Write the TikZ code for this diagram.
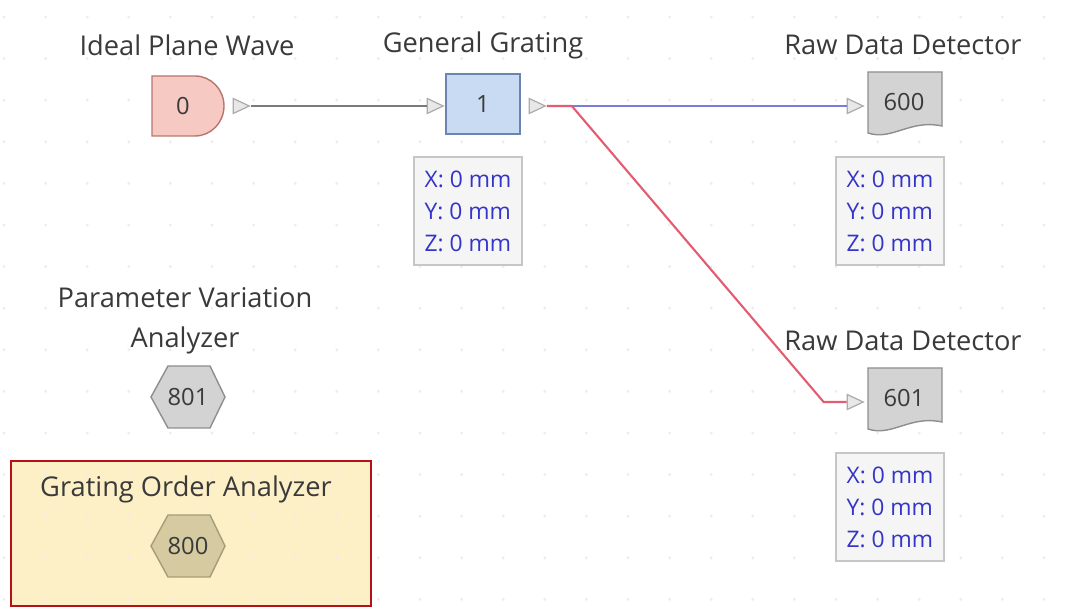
\documentclass[tikz,border=0pt]{standalone}
\usepackage{fontspec}
\setmainfont{Open Sans}
\usepackage{tikz}
\usetikzlibrary{positioning,shapes.geometric}

\definecolor{txtgray}{HTML}{3A3A3A}
\definecolor{srcfill}{HTML}{F6C9C2}
\definecolor{srcline}{HTML}{B8776C}
\definecolor{grtfill}{HTML}{C9DBF2}
\definecolor{grtline}{HTML}{6A86B0}
\definecolor{detfill}{HTML}{D3D3D3}
\definecolor{detline}{HTML}{8E8E8E}
\definecolor{infoblue}{HTML}{3434C8}
\definecolor{hexkhaki}{HTML}{D6CBA0}
\definecolor{hexkline}{HTML}{A69D78}
\definecolor{paleyellow}{HTML}{FDF0C6}
\definecolor{selred}{HTML}{B3121C}
\definecolor{wireblue}{HTML}{7C7CD8}
\definecolor{wirered}{HTML}{E35C70}
\definecolor{wiregray}{HTML}{7A7A7A}

\tikzset{
  title/.style={text=txtgray,font=\fontsize{15.5}{22.8}\selectfont,align=center,inner sep=0pt},
  numlbl/.style={text=txtgray,font=\fontsize{13.5}{16}\selectfont,inner sep=0pt},
  port/.style={isosceles triangle,isosceles triangle stretches,draw=gray!65,fill=gray!18,
    minimum width=0.3cm,minimum height=0.32cm,inner sep=0pt,line width=0.7pt},
  infobox/.style={draw=gray!45,fill=gray!8,line width=0.8pt,text=infoblue,align=left,
    font=\fontsize{13}{18.2}\selectfont,minimum width=2.16cm,minimum height=2.16cm,inner sep=0pt},
  wire/.style={line width=1.2pt}
}

\begin{document}
\begin{tikzpicture}[x=0.02cm,y=-0.02cm]
\useasboundingbox (0,0) rectangle (1066,607);
\fill[white] (0,0) rectangle (1066,607);
% analyzer selection
\draw[fill=paleyellow,draw=selred,line width=1.6pt] (11,461) rectangle (371,606);
% grid dots
\foreach \gx in {4,45.6,...,1066}
  \foreach \gy in {17,58.6,...,607}
    \fill[gray!14] (\gx,\gy) circle (0.9pt);

% source
\draw[fill=srcfill,draw=srcline,line width=0.8pt] (152,76) -- (195,76)
  arc[start angle=90,end angle=-90,x radius=0.58cm,y radius=0.6cm] -- (152,136) -- cycle;
\node[numlbl] (src0) at (183,106) {0};
\node[title] at (187,45) {Ideal Plane Wave};
\node[port] (out0) at (238,106) {};

% grating
\node[draw=grtline,fill=grtfill,line width=0.8pt,minimum width=1.48cm,minimum height=1.2cm,
  text=txtgray,font=\fontsize{13.5}{16}\selectfont] (grt1) at (483,104) {1};
\node[title] at (483,45) {General Grating};
\node[port] (in1) at (432,106) {};
\node[port] (out1) at (534,106) {};
\node[infobox] (info1) at (468,211) {X: 0 mm\\Y: 0 mm\\Z: 0 mm};

% detectors
\foreach \nm/\py in {600/105, 601/401} {
  \draw[fill=detfill,draw=detline,line width=0.8pt] (868,\py-33) -- (942,\py-33) -- (942,\py+21)
    .. controls (910,\py+14) and (892,\py+36) .. (868,\py+28) -- cycle;
  \node[numlbl] (det\nm) at (904,\py-3) {\nm};
  \node[title] at (903,\py-60) {Raw Data Detector};
  \node[port] (in\nm) at (852,\py+1) {};
  \node[infobox] (info\nm) at (890,\py+106) {X: 0 mm\\Y: 0 mm\\Z: 0 mm};
}

% analyzers
\foreach \nm/\py/\fc/\lc in {801/397/detfill/detline, 800/546/hexkhaki/hexkline} {
  \draw[fill=\fc,draw=\lc,line width=0.8pt] (151,\py) -- (168,\py-31) -- (210,\py-31)
    -- (225,\py) -- (210,\py+31) -- (168,\py+31) -- cycle;
  \node[numlbl] (an\nm) at (188,\py) {\nm};
}
\node[title] at (185,321) {Parameter Variation\\Analyzer};
\node[title] at (186,489) {Grating Order Analyzer};

% wires
\draw[wire,wiregray] (out0.east) -- (in1.west);
\draw[wire,wireblue] (out1.east) -- (in600.west);
\draw[wire,wirered] (out1.east) -- ++(25,0) -- ([xshift=-0.46cm]in601.west) -- (in601.west);
\end{tikzpicture}
\end{document}
